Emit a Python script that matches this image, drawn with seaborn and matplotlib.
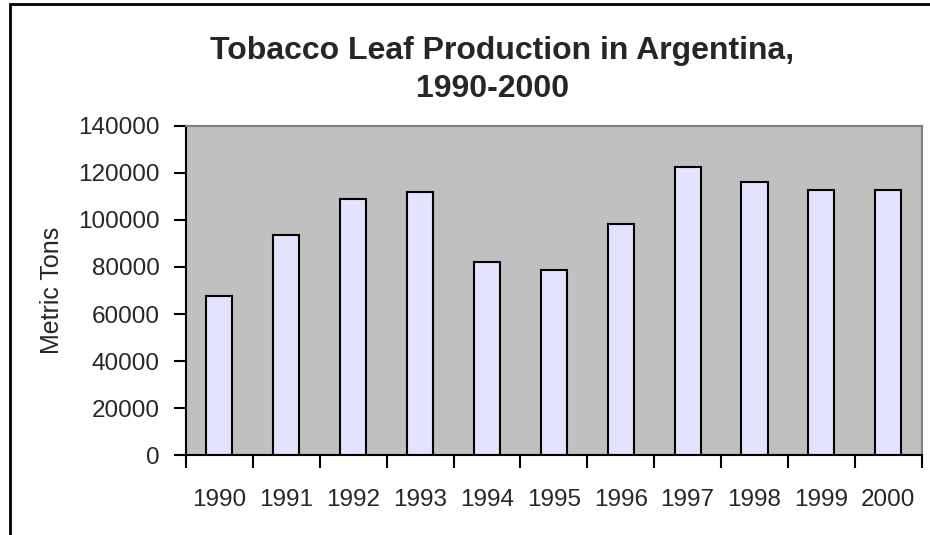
import matplotlib
matplotlib.use("Agg")
import matplotlib.pyplot as plt
import seaborn as sns
import pandas as pd
from matplotlib.patches import Rectangle

# ── Data ───────────────────────────────────────────────────────
years = ["1990", "1991", "1992", "1993", "1994", "1995",
         "1996", "1997", "1998", "1999", "2000"]
production = [67500, 93700, 109000, 111700, 82000, 78600,
              98100, 122600, 116000, 112600, 112600]
y_ticks = [0, 20000, 40000, 60000, 80000, 100000, 120000, 140000]

df = pd.DataFrame({"year": years, "tons": production})

sns.set_theme(style="white")
plt.rcParams["font.family"] = ["Liberation Sans", "DejaVu Sans"]

fig = plt.figure(figsize=(9.3, 5.35), dpi=100)
ax = fig.add_axes([186 / 930, 1 - 455.3 / 535,
                   (921.7 - 186) / 930, (455.3 - 125.7) / 535])
ax.set_facecolor("#C0C0C0")

sns.barplot(data=df, x="year", y="tons", color="#E3E3FF",
            edgecolor="black", linewidth=1.5, width=0.39,
            saturation=1, ax=ax)

# ── Axes styling ───────────────────────────────────────────────
ax.set_xlim(-0.5, len(years) - 0.5)
ax.set_ylim(0, 140000)
ax.set_yticks(y_ticks)
ax.set_yticklabels([str(t) for t in y_ticks], fontsize=17.5)

# ticks between categories, labels at the centres
ax.set_xticks([i - 0.5 for i in range(len(years) + 1)])
ax.set_xticklabels([])
ax.set_xticks(range(len(years)), minor=True)
ax.set_xticklabels(years, minor=True, fontsize=17.5)
ax.tick_params(axis="x", which="major", length=9, width=1.5,
               color="black", direction="out", bottom=True)
ax.tick_params(axis="x", which="minor", length=0, pad=24)
ax.tick_params(axis="y", length=9, width=1.5, color="black",
               direction="out", left=True, pad=10)

ax.set_xlabel("")
ax.set_ylabel("")
for side in ["left", "bottom"]:
    ax.spines[side].set_color("black")
    ax.spines[side].set_linewidth(1.5)
for side in ["top", "right"]:
    ax.spines[side].set_color("#808080")
    ax.spines[side].set_linewidth(1.5)
    ax.spines[side].set_visible(True)

# ── Titles ─────────────────────────────────────────────────────
fig.text(502 / 930, 1 - 59.5 / 535, "Tobacco Leaf Production in Argentina,",
         ha="center", va="baseline", fontsize=23, fontweight="bold")
fig.text(493 / 930, 1 - 96.7 / 535, "1990-2000",
         ha="center", va="baseline", fontsize=23, fontweight="bold")
fig.text(52 / 930, 1 - 290 / 535, "Metric Tons", rotation=90,
         ha="center", va="center", fontsize=18)

# outer chart border
fig.patches.append(Rectangle((10 / 930, -0.1), 1.2, 1 - 4 / 535 + 0.1,
                             transform=fig.transFigure, fill=False,
                             edgecolor="black", linewidth=2))

fig.savefig("out.png", dpi=100)
plt.close(fig)
